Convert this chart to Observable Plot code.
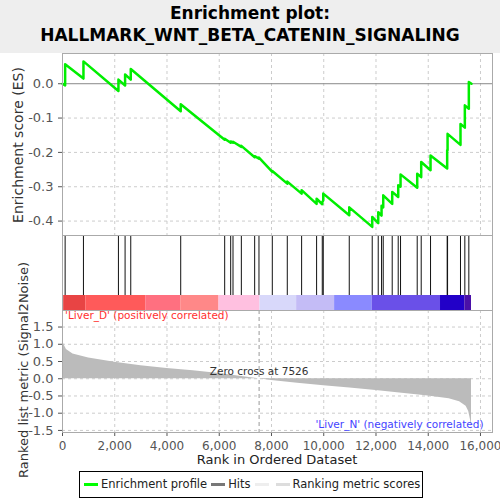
<!DOCTYPE html>
<html><head><meta charset="utf-8">
<script src="https://cdn.jsdelivr.net/npm/d3@7"></script>
<script src="https://cdn.jsdelivr.net/npm/@observablehq/plot@0.6"></script>
<style>
body{margin:0;font-family:"DejaVu Sans",sans-serif;}
#wrap{position:relative;width:500px;height:500px;background:#eeeeee;overflow:hidden}
.abs{position:absolute}
.rot{position:absolute;transform:rotate(-90deg);transform-origin:center;white-space:nowrap;font-size:14px;color:#333;text-align:center;line-height:16px;height:16px}
.lg{display:inline-block;width:14px;height:3px;vertical-align:middle;margin:0 3px 0 4px}
</style></head><body>
<div id="wrap">
  <div class="abs" style="left:0;top:2px;width:500px;text-align:center;font-weight:bold;font-size:17px;line-height:22px;color:#000">Enrichment plot:<br>HALLMARK_WNT_BETA_CATENIN_SIGNALING</div>
  <div id="es" class="abs" style="left:0;top:53px"></div>
  <div id="hits" class="abs" style="left:0;top:235px"></div>
  <div id="metric" class="abs" style="left:0;top:310px"></div>
  <div class="rot" style="left:-82px;top:137px;width:200px">Enrichment score (ES)</div>
  <div class="rot" style="left:-101px;top:362px;width:250px;font-size:13px">Ranked list metric (Signal2Noise)</div>
  <div class="abs" style="left:62px;top:452px;width:430px;text-align:center;font-size:13px;color:#222">Rank in Ordered Dataset</div>
  <div class="abs" style="left:79px;top:471px;width:342px;height:25px;border:1px solid #000;background:#fff;font-size:11.5px;line-height:25px;color:#222;white-space:nowrap;overflow:hidden">
    <span class="lg" style="background:#00ff00"></span>Enrichment profile<span class="lg" style="background:#777"></span>Hits<span class="lg" style="background:#eee"></span><span class="lg" style="background:#ddd"></span>Ranking metric scores
  </div>
</div>
<script>
const N = 15656;
const hitRanks = [101,802,2141,2396,2613,4525,6208,6438,6527,6846,7356,7521,8031,8605,9153,9727,9944,9982,10977,11856,12086,12213,12277,12621,12851,12940,13578,13731,14088,14725,14740,15235,15401,15554];
const esBefore = [-0.005,0.015,-0.021,-0.005,0.012,-0.080,-0.163,-0.172,-0.172,-0.184,-0.214,-0.218,-0.257,-0.291,-0.320,-0.350,-0.351,-0.340,-0.383,-0.417,-0.406,-0.384,-0.360,-0.350,-0.330,-0.300,-0.303,-0.272,-0.252,-0.247,-0.194,-0.178,-0.128,-0.073];
const esAfter  = [0.057,0.065,0.012,0.027,0.043,-0.060,-0.160,-0.168,-0.169,-0.181,-0.211,-0.215,-0.254,-0.285,-0.310,-0.335,-0.345,-0.320,-0.360,-0.388,-0.374,-0.355,-0.325,-0.315,-0.296,-0.264,-0.262,-0.228,-0.209,-0.194,-0.146,-0.117,-0.063,0.005];
const metricRank = [0,20,50,150,400,1000,2000,3000,4000,5000,6000,7000,7526,8000,9000,10000,11000,12000,13000,14000,14800,15200,15450,15550,15620,15656];
const metricVal  = [1.15,1.08,1.0,0.85,0.72,0.6,0.48,0.38,0.3,0.23,0.15,0.05,0,-0.05,-0.13,-0.2,-0.27,-0.34,-0.42,-0.5,-0.58,-0.67,-0.8,-0.95,-1.2,-1.42];
const barEdges  = [0,60,891,3186,4525,5991,7560,8962,10416,11856,14470,15400,15656];
const barColors = ["#d01010","#e84444","#ff5a5a","#ff7080","#ff8888","#ffc0e0","#d8d8fa","#c4bcf6","#8a8aff","#6a50e8","#2200c8","#4a10a8"];

const X = {domain:[0,16460], ticks:[0,2000,4000,6000,8000,10000,12000,14000,16000]};
const fmt1 = d => d.toFixed(1);
const common = {width:500, marginLeft:62, marginRight:8, style:{fontFamily:"DejaVu Sans, sans-serif", fontSize:"12px", color:"#555", background:"#fff", overflow:"visible"}};

const esLine = [[0,0]];
hitRanks.forEach((r,i)=>{esLine.push([r,esBefore[i]]);esLine.push([r,esAfter[i]]);});
esLine.push([N,0]);

const grid = (ticks)=>Plot.gridX(ticks,{stroke:"#ccc",strokeOpacity:1,strokeDasharray:"3,3"});

document.getElementById("es").append(Plot.plot({...common, height:182, marginTop:0, marginBottom:0,
  x:{...X, axis:null},
  y:{domain:[-0.442,0.088], axis:null},
  marks:[
    grid(X.ticks),
    Plot.gridY([-0.4,-0.3,-0.2,-0.1],{stroke:"#ccc",strokeOpacity:1,strokeDasharray:"3,3"}),
    Plot.ruleY([0],{stroke:"#888"}),
    Plot.axisY({ticks:[-0.4,-0.3,-0.2,-0.1,0], tickFormat:fmt1, label:null, tickSize:4, fontSize:13}),
    Plot.line(esLine,{x:d=>d[0],y:d=>d[1],stroke:"#00ee00",strokeWidth:2.5}),
    Plot.frame({stroke:"#aaa"})
  ]}));

const segs = barColors.map((c,i)=>({x1:barEdges[i],x2:barEdges[i+1],c}));
document.getElementById("hits").append(Plot.plot({...common, height:75, marginTop:0, marginBottom:0,
  x:{...X, axis:null}, y:{domain:[0,75], axis:null},
  marks:[
    Plot.rectX(segs,{x1:"x1",x2:"x2",y1:0,y2:15,fill:d=>d.c}),
    Plot.ruleX(hitRanks,{y1:15,y2:75,stroke:"#111",strokeWidth:1}),
    Plot.frame({stroke:"#aaa"})
  ]}));

const metric = metricRank.map((r,i)=>({r,v:metricVal[i]}));
document.getElementById("metric").append(Plot.plot({...common, height:190, marginTop:0, marginBottom:68,
  x:{...X, axis:null},
  y:{domain:[-1.56,1.98], axis:null},
  marks:[
    grid(X.ticks),
    Plot.gridY([-1.5,-1,-0.5,0,0.5,1,1.5],{stroke:"#ccc",strokeOpacity:1,strokeDasharray:"3,3"}),
    Plot.areaY(metric,{x:"r",y:"v",fill:"#bbbbbb"}),
    Plot.ruleX([7526],{stroke:"#999",strokeDasharray:"4,3"}),
    Plot.text(["Zero cross at 7526"],{x:7526,y:0.2,fill:"#333",fontSize:10.5}),
    Plot.text(["'Liver_D' (positively correlated)"],{x:100,y:1.84,textAnchor:"start",fill:"#ff3030",fontSize:10.5}),
    Plot.text(["'Liver_N' (negatively correlated)"],{x:12900,y:-1.32,fill:"#4444ff",fontSize:10.5}),
    Plot.axisY({ticks:[-1.5,-1,-0.5,0,0.5,1,1.5], tickFormat:fmt1, label:null, tickSize:4, fontSize:13}),
    Plot.axisX({ticks:X.ticks, tickFormat:d3.format(","), label:null, tickSize:4, fontSize:12}),
    Plot.frame({stroke:"#aaa"})
  ]}));
</script>
</body></html>
